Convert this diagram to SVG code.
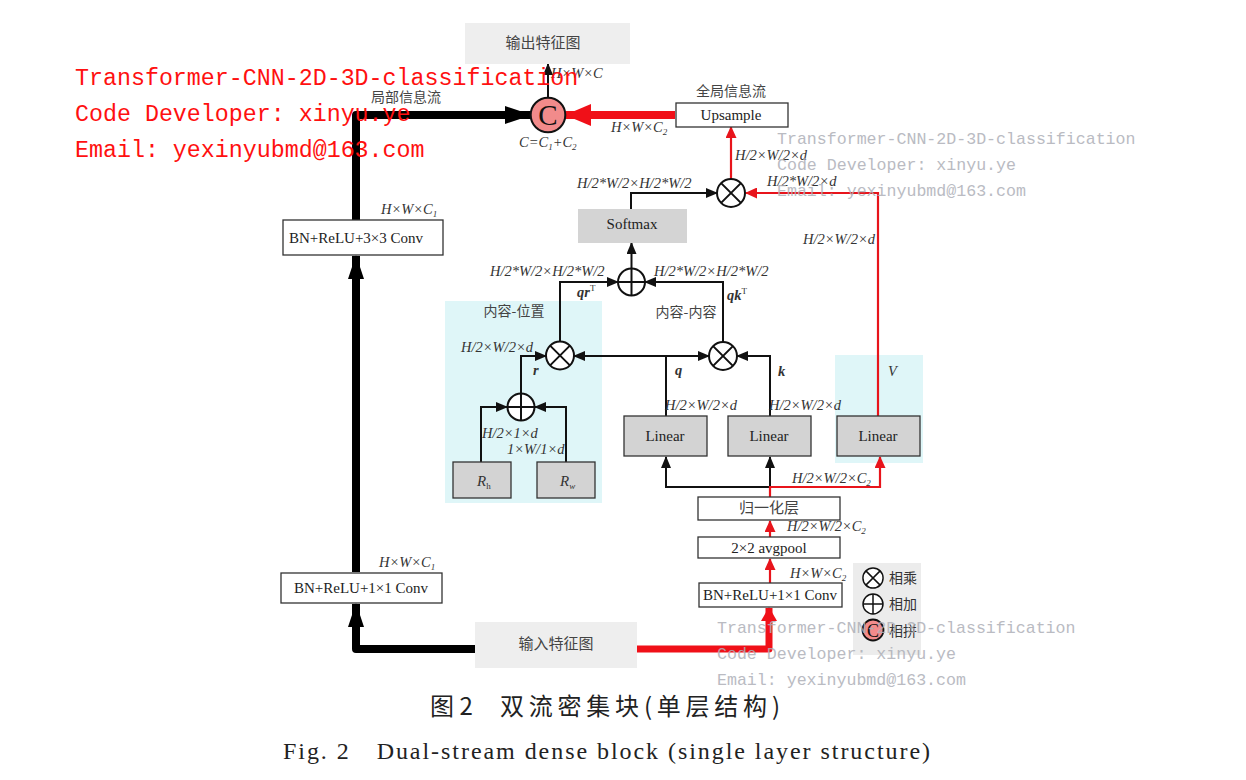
<svg xmlns="http://www.w3.org/2000/svg" xmlns:xlink="http://www.w3.org/1999/xlink" width="1246" height="780" viewBox="0 0 1246 780">
<style>
.box{fill:#fff;stroke:#333;stroke-width:1.3}
.gbox{fill:#d3d3d3;stroke:#333;stroke-width:1.3}
.sbox{fill:#d4d4d4}
.lbox{fill:#eeeeee}
.cyan{fill:#dff6f8}
.bt{font-family:"Liberation Serif",serif;font-size:15px;fill:#222;text-anchor:middle}
.cn{font-family:"Noto Sans CJK SC",sans-serif;font-size:14px;fill:#444;text-anchor:middle}
.m{font-family:"Liberation Serif",serif;font-style:italic;font-size:14.5px;fill:#333}
.mb{font-family:"Liberation Serif",serif;font-style:italic;font-weight:bold;font-size:14.5px;fill:#333}
.thin{fill:none;stroke:#111;stroke-width:2}
.thinr{fill:none;stroke:#e8141b;stroke-width:2.2}
.thickb{fill:none;stroke:#000;stroke-width:8;stroke-linejoin:round}
.thickr{fill:none;stroke:#f01018;stroke-width:8;stroke-linejoin:round}
.op{fill:#fff;stroke:#111;stroke-width:2}
.wmr{font-family:"Liberation Mono",monospace;font-size:23.3px;fill:#ff1010}
.wmg{font-family:"Liberation Mono",monospace;font-size:16.6px;fill:#aeb0b8;opacity:0.85}
.cap{font-family:"Noto Sans CJK SC",sans-serif;font-size:24px;fill:#222}
</style>
<defs>
<marker id="ab" markerUnits="userSpaceOnUse" markerWidth="12" markerHeight="10" refX="11" refY="5" orient="auto"><path d="M0,0 L12,5 L0,10 Z" fill="#111"/></marker>
<marker id="ar" markerUnits="userSpaceOnUse" markerWidth="12" markerHeight="11" refX="11" refY="5.5" orient="auto"><path d="M0,0 L12,5.5 L0,11 Z" fill="#e8141b"/></marker>
<marker id="abt" markerUnits="userSpaceOnUse" markerWidth="27" markerHeight="18" refX="26" refY="9" orient="auto"><path d="M0,0 L27,9 L0,18 Z" fill="#000"/></marker>
<marker id="abt2" markerUnits="userSpaceOnUse" markerWidth="24" markerHeight="16" refX="23" refY="8" orient="auto"><path d="M0,0 L24,8 L0,16 Z" fill="#000"/></marker>
<marker id="art" markerUnits="userSpaceOnUse" markerWidth="26" markerHeight="22" refX="25" refY="11" orient="auto"><path d="M0,0 L26,11 L0,22 Z" fill="#f01018"/></marker>
<marker id="art2" markerUnits="userSpaceOnUse" markerWidth="14" markerHeight="16" refX="13" refY="8" orient="auto"><path d="M0,0 L14,8 L0,16 Z" fill="#f01018"/></marker>
<g id="otimes"><circle r="14" class="op"/><path d="M-9.9,-9.9 L9.9,9.9 M9.9,-9.9 L-9.9,9.9" stroke="#111" stroke-width="2"/></g>
<g id="oplus"><circle r="13.5" class="op"/><path d="M0,-13.5 V13.5 M-13.5,0 H13.5" stroke="#111" stroke-width="2"/></g>
</defs>
<rect width="1246" height="780" fill="#fff"/>

<!-- background regions -->
<rect class="cyan" x="445" y="301" width="157" height="202"/>
<rect class="cyan" x="835" y="355" width="88" height="108"/>
<rect x="853" y="563" width="68" height="92" fill="#ececec"/>

<!-- connectors -->
<g id="connectors">
<path class="thickb" d="M475,649 H356 V604" marker-end="url(#abt2)"/>
<path class="thickb" d="M356,572 V256" marker-end="url(#abt2)"/>
<path class="thickb" d="M356,220 V115 H531" marker-end="url(#abt)"/>
<path class="thickr" d="M675,115 H566" marker-end="url(#art)"/>
<path class="thickr" style="stroke-width:7" d="M637,649 H769 V608" marker-end="url(#art2)"/>
<path class="thin" d="M548,98 V64" marker-end="url(#ab)"/>
<path class="thin" d="M631,209 V193 H717" marker-end="url(#ab)"/>
<path class="thin" d="M631.5,268 V243" marker-end="url(#ab)"/>
<path class="thin" d="M560,341 V282 H618" marker-end="url(#ab)"/>
<path class="thin" d="M723,342 V282 H645" marker-end="url(#ab)"/>
<path class="thin" d="M666,416 V356 H709" marker-end="url(#ab)"/>
<path class="thin" d="M666,356 H574" marker-end="url(#ab)"/>
<path class="thin" d="M770,416 V356 H737" marker-end="url(#ab)"/>
<path class="thin" d="M521,393 V356 H546" marker-end="url(#ab)"/>
<path class="thin" d="M481,462 V407 H507" marker-end="url(#ab)"/>
<path class="thin" d="M566,462 V407 H535" marker-end="url(#ab)"/>
<path class="thin" d="M770,487 H666 V457" marker-end="url(#ab)"/>
<path class="thin" d="M770,487 V457" marker-end="url(#ab)"/>
<path class="thinr" d="M770,497 V487 H880 V457" marker-end="url(#ar)"/>
<path class="thinr" d="M770,583 V559" marker-end="url(#ar)"/>
<path class="thinr" d="M770,537 V521" marker-end="url(#ar)"/>
<path class="thinr" d="M878,416 V193 H746" marker-end="url(#ar)"/>
<path class="thinr" d="M731,179 V127" marker-end="url(#ar)"/>
</g>

<!-- nodes -->
<g id="output"><rect class="lbox" x="465" y="23" width="165" height="41"/><text class="cn" x="543" y="48" style="font-size:15px">输出特征图</text></g>
<g id="concat"><circle cx="548" cy="115" r="17.3" fill="#f28b8b" stroke="#111" stroke-width="2"/><text x="548" y="125" font-family="Liberation Serif,serif" font-size="29" text-anchor="middle" fill="#111">C</text></g>
<g id="upsample"><rect class="box" x="676" y="103" width="112" height="24"/><text class="bt" x="731" y="120">Upsample</text></g>
<g id="conv33"><rect class="box" x="283" y="220" width="160" height="35"/><text class="bt" x="356" y="243">BN+ReLU+3×3 Conv</text></g>
<g id="conv11a"><rect class="box" x="281" y="573" width="161" height="30"/><text class="bt" x="361" y="593">BN+ReLU+1×1 Conv</text></g>
<g id="input"><rect class="lbox" x="475" y="622" width="162" height="46"/><text class="cn" x="556" y="649" style="font-size:15px">输入特征图</text></g>
<g id="conv11b"><rect class="box" x="699" y="583" width="143" height="24"/><text class="bt" x="770" y="600">BN+ReLU+1×1 Conv</text></g>
<g id="avgpool"><rect class="box" x="698" y="537" width="142" height="21"/><text class="bt" x="769" y="553">2×2 avgpool</text></g>
<g id="norm"><rect class="box" x="698" y="497" width="142" height="23"/><text class="cn" x="769" y="513" style="font-size:15px">归一化层</text></g>
<g id="linear1"><rect class="gbox" x="624" y="416" width="83" height="40"/><text class="bt" x="665" y="441">Linear</text></g>
<g id="linear2"><rect class="gbox" x="728" y="416" width="83" height="40"/><text class="bt" x="769" y="441">Linear</text></g>
<g id="linear3"><rect class="gbox" x="837" y="416" width="83" height="40"/><text class="bt" x="878" y="441">Linear</text></g>
<g id="softmax"><rect class="sbox" x="578" y="209" width="109" height="34"/><text class="bt" x="632" y="229">Softmax</text></g>
<g id="mulTop"><use href="#otimes" x="731" y="193"/></g>
<g id="addMid"><use href="#oplus" x="631.5" y="282"/></g>
<g id="mulQR"><use href="#otimes" x="560" y="355.5"/></g>
<g id="mulQK"><use href="#otimes" x="723" y="356"/></g>
<g id="addR"><use href="#oplus" x="521" y="407"/></g>
<g id="Rh"><rect class="gbox" x="453" y="462" width="58" height="36"/><text class="m" x="477" y="486" style="font-size:15px">R<tspan font-size="9" font-style="normal" dy="3">h</tspan></text></g>
<g id="Rw"><rect class="gbox" x="537" y="462" width="58" height="36"/><text class="m" x="560" y="486" style="font-size:15px">R<tspan font-size="9" dy="3">w</tspan></text></g>

<!-- legend -->
<g id="legend">
<g transform="translate(873,578) scale(0.72)"><use href="#otimes"/></g>
<text class="cn" x="903" y="583" style="font-size:14px;fill:#333">相乘</text>
<g transform="translate(873,604) scale(0.74)"><use href="#oplus"/></g>
<text class="cn" x="903" y="609" style="font-size:14px;fill:#333">相加</text>
<circle cx="873" cy="630" r="10.5" fill="#f28b8b" stroke="#111" stroke-width="1.8"/>
<text x="873" y="637" font-family="Liberation Serif,serif" font-size="18" text-anchor="middle" fill="#111">C</text>
<text class="cn" x="903" y="636" style="font-size:14px;fill:#333">相拼</text>
</g>

<!-- labels -->
<g id="labels">
<text class="cn" x="406" y="102">局部信息流</text>
<text class="cn" x="731" y="96">全局信息流</text>
<text class="cn" x="514" y="316">内容-位置</text>
<text class="cn" x="686" y="317">内容-内容</text>
<text class="m" x="551" y="78">H×W×C</text>
<text class="m" x="519" y="147">C=C<tspan font-size="9" dy="3">1</tspan><tspan dy="-3">+C</tspan><tspan font-size="9" dy="3">2</tspan></text>
<text class="m" x="611" y="132">H×W×C<tspan font-size="9" dy="3">2</tspan></text>
<text class="m" x="735" y="160">H/2×W/2×d</text>
<text class="m" x="767" y="186">H/2*W/2×d</text>
<text class="m" x="803" y="244">H/2×W/2×d</text>
<text class="m" x="577" y="188">H/2*W/2×H/2*W/2</text>
<text class="m" x="381" y="214">H×W×C<tspan font-size="9" dy="3">1</tspan></text>
<text class="m" x="490" y="276">H/2*W/2×H/2*W/2</text>
<text class="m" x="654" y="276">H/2*W/2×H/2*W/2</text>
<text class="mb" x="577" y="297">qr<tspan font-size="9" font-weight="normal" font-style="normal" dy="-6">T</tspan></text>
<text class="mb" x="727" y="300">qk<tspan font-size="9" font-weight="normal" font-style="normal" dy="-6">T</tspan></text>
<text class="m" x="461" y="352">H/2×W/2×d</text>
<text class="mb" x="533" y="375">r</text>
<text class="mb" x="675" y="375">q</text>
<text class="mb" x="778" y="376">k</text>
<text class="m" x="888" y="376">V</text>
<text class="m" x="665" y="410">H/2×W/2×d</text>
<text class="m" x="769" y="410">H/2×W/2×d</text>
<text class="m" x="482" y="438">H/2×1×d</text>
<text class="m" x="507" y="454">1×W/1×d</text>
<text class="m" x="792" y="483">H/2×W/2×C<tspan font-size="9" dy="3">2</tspan></text>
<text class="m" x="787" y="531">H/2×W/2×C<tspan font-size="9" dy="3">2</tspan></text>
<text class="m" x="379" y="567">H×W×C<tspan font-size="9" dy="3">1</tspan></text>
<text class="m" x="790" y="578">H×W×C<tspan font-size="9" dy="3">2</tspan></text>
</g>

<!-- captions -->
<text class="cap" x="430" y="715">图 2</text>
<text class="cap" x="500" y="715" textLength="280" lengthAdjust="spacing">双流密集块(单层结构)</text>
<text x="283" y="759" font-family="Liberation Serif,serif" font-size="24" fill="#222" textLength="647" lengthAdjust="spacing">Fig. 2　Dual-stream dense block (single layer structure)</text>

<!-- watermarks -->
<text class="wmg" x="777" y="144">Transformer-CNN-2D-3D-classification</text>
<text class="wmg" x="777" y="170">Code Developer: xinyu.ye</text>
<text class="wmg" x="777" y="196">Email: yexinyubmd@163.com</text>
<text class="wmg" x="717" y="633">Transformer-CNN-2D-3D-classification</text>
<text class="wmg" x="717" y="659">Code Developer: xinyu.ye</text>
<text class="wmg" x="717" y="685">Email: yexinyubmd@163.com</text>
<text class="wmr" x="75" y="85">Transformer-CNN-2D-3D-classification</text>
<text class="wmr" x="75" y="121">Code Developer: xinyu.ye</text>
<text class="wmr" x="75" y="157">Email: yexinyubmd@163.com</text>
</svg>
